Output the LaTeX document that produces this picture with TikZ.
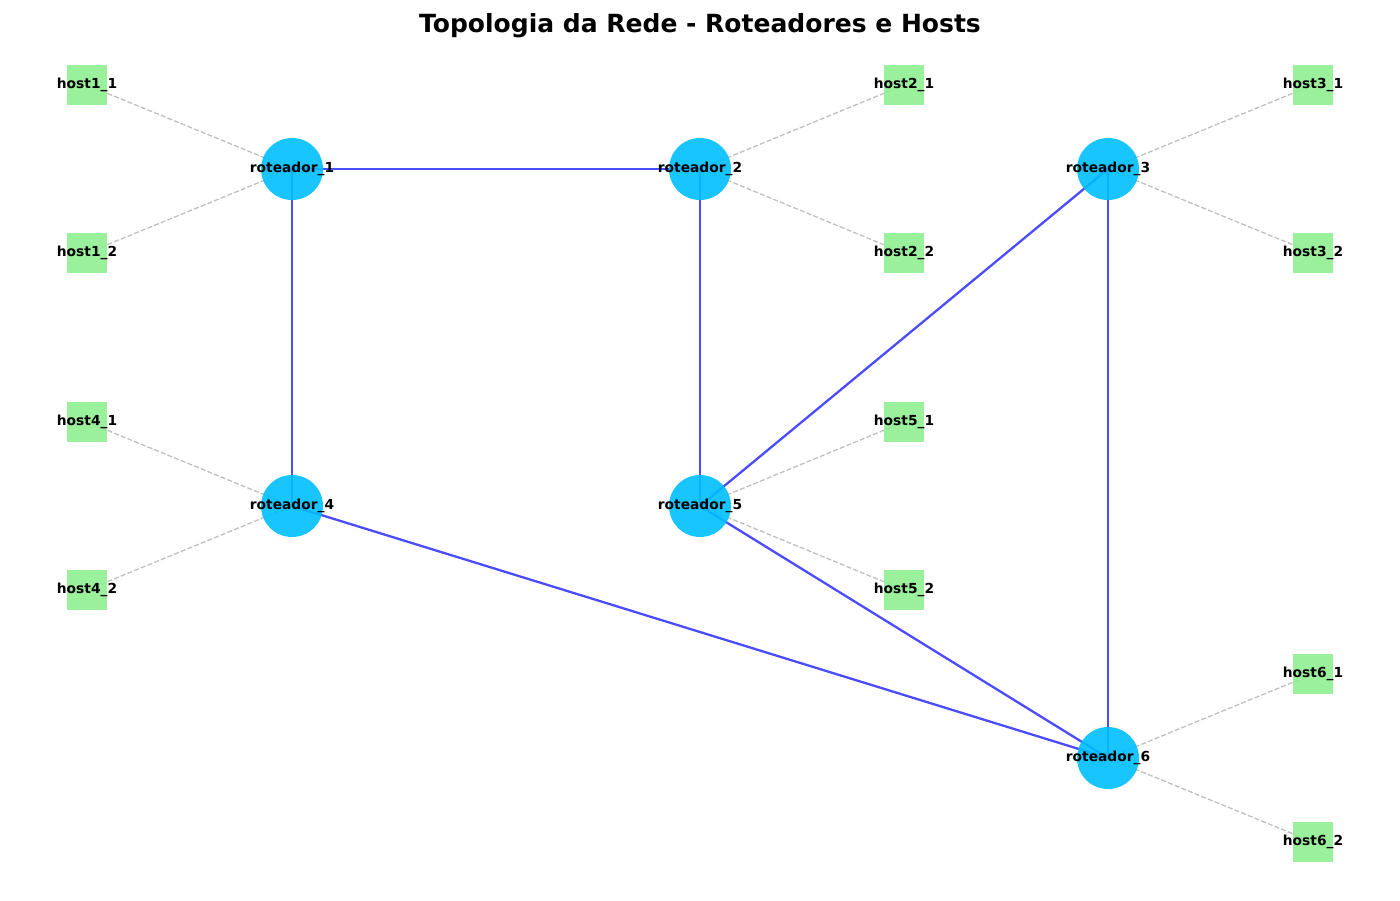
\documentclass[tikz,border=0pt]{standalone}
\usepackage{fontspec}
\setmainfont{DejaVu Sans}
\begin{document}
\begin{tikzpicture}[x=1pt,y=-1pt,
  lab/.style={font=\fontsize{13.8}{14}\selectfont\bfseries,inner sep=0pt},
  router/.style={circle,fill={rgb,255:red,0;green,191;blue,255},fill opacity=0.9,minimum size=62pt,inner sep=0pt},
  host/.style={rectangle,fill={rgb,255:red,144;green,238;blue,144},fill opacity=0.9,minimum size=40pt,inner sep=0pt},
  link/.style={draw={rgb,255:red,0;green,0;blue,255},draw opacity=0.7,line width=2.3pt},
  hlink/.style={draw={rgb,255:red,128;green,128;blue,128},draw opacity=0.5,line width=1.3pt,dash pattern=on 5pt off 2.2pt}]
\useasboundingbox (0,0) rectangle (1400,900);
% coordinates
\coordinate (c1) at (292,169);
\coordinate (c2) at (700,169);
\coordinate (c3) at (1108,169);
\coordinate (c4) at (292,506);
\coordinate (c5) at (700,506);
\coordinate (c6) at (1108,758);
\coordinate (h11) at (87,85);
\coordinate (h12) at (87,253);
\coordinate (h21) at (904,85);
\coordinate (h22) at (904,253);
\coordinate (h31) at (1313,85);
\coordinate (h32) at (1313,253);
\coordinate (h41) at (87,422);
\coordinate (h42) at (87,590);
\coordinate (h51) at (904,422);
\coordinate (h52) at (904,590);
\coordinate (h61) at (1313,674);
\coordinate (h62) at (1313,842);
% host edges
\foreach \r/\h in {c1/h11,c1/h12,c2/h21,c2/h22,c3/h31,c3/h32,c4/h41,c4/h42,c5/h51,c5/h52,c6/h61,c6/h62}
  \draw[hlink] (\r) -- (\h);
% router edges
\foreach \a/\b in {c1/c2,c1/c4,c2/c5,c3/c5,c3/c6,c4/c6,c5/c6}
  \draw[link] (\a) -- (\b);
% router nodes
\foreach \i in {1,...,6}
  \node[router] (r\i) at (c\i) {};
% host nodes
\foreach \h in {11,12,21,22,31,32,41,42,51,52,61,62}
  \node[host] (n\h) at (h\h) {};
% labels
\foreach \i in {1,...,6}
  \node[lab] (lr\i) at (r\i) {roteador\_\i};
\foreach \a/\b in {1/1,1/2,2/1,2/2,3/1,3/2,4/1,4/2,5/1,5/2,6/1,6/2}
  \node[lab] (ln\a\b) at (n\a\b) {host\a\_\b};
\node[font=\fontsize{25}{27}\selectfont\bfseries] (title) at (700,26) {Topologia da Rede - Roteadores e Hosts};
\end{tikzpicture}
\end{document}
